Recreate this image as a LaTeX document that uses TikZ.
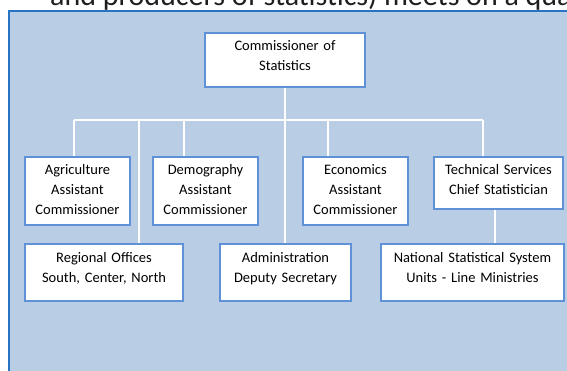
\documentclass[tikz,border=0pt]{standalone}
\usepackage{fontspec}
\setmainfont{Carlito}
\usepackage{tikz}
\usetikzlibrary{positioning}
\definecolor{c_panel}{RGB}{185,205,229}
\definecolor{c_edge}{RGB}{40,116,196}
\definecolor{c_frame}{RGB}{95,145,215}
\definecolor{c_head}{RGB}{30,30,30}
\tikzset{o-box/.style={rectangle, draw=c_frame, line width=1.6pt, fill=white, inner xsep=2pt, inner ysep=0pt, align=center, text height=18pt, font=\fontsize{14.5}{20}\selectfont},
link/.style={white, line width=1.3pt}}

\begin{document}
\begin{tikzpicture}[x=1pt, y=-1pt]
\useasboundingbox (0,0) rectangle (567,371);
\clip (0,0) rectangle (567,371);
\fill[white] (0,0) rectangle (567,371);
\draw[c_edge, line width=2pt, fill=c_panel] (9,11) rectangle (600,400);
\node (head) [anchor=base west, inner sep=0pt, text=c_head, font=\fontsize{30}{32}\selectfont] at (50,6) {and producers of statistics) meets on a quarterly basis};
% top of the chart
\node (n0) [o-box, text width=156pt, text depth=36pt] at (285,60) {Commissioner of\\Statistics};
% first row
\node (n1) [o-box, text width=101pt, text depth=50pt] at (77.5,191) {Agriculture\\Assistant\\Commissioner};
\node (n2) [o-box, text width=101pt, text depth=50pt] at (205.5,191) {Demography\\Assistant\\Commissioner};
\node (n3) [o-box, text width=101pt, text depth=50pt] at (355.5,191) {Economics\\Assistant\\Commissioner};
\node (n4) [o-box, text width=125pt, text depth=34pt] at (498.5,183) {Technical Services\\Chief Statistician};
% second row
\node (n5) [o-box, text width=154pt, text depth=39pt] at (104,272.5) {Regional Offices\\South, Center, North};
\node (n6) [o-box, text width=127pt, text depth=39pt] at (285.5,272.5) {Administration\\Deputy Secretary};
\node (n7) [o-box, text width=179pt, text depth=39pt] at (472.5,272.5) {National Statistical System\\Units - Line Ministries};
% bus
\coordinate (d1) at (74,120);
\coordinate (d2) at (139,120);
\coordinate (d3) at (184,120);
\coordinate (d4) at (328,120);
\coordinate (d5) at (483,120);
\coordinate (d6) at (495,120);
\begin{scope}[on background layer/.try]
\draw [link] (d1) -- (d5);
\draw [link] (n0.south) -- (n0.south |- n6.north);
\draw [link] (d1) -- (d1 |- n1.north);
\draw [link] (d2) -- (d2 |- n5.north);
\draw [link] (d3) -- (d3 |- n2.north);
\draw [link] (d4) -- (d4 |- n3.north);
\draw [link] (d5) -- (d5 |- n4.north);
\draw [link] (d6 |- n4.south) -- (d6 |- n7.north);
\end{scope}
\end{tikzpicture}
\end{document}
